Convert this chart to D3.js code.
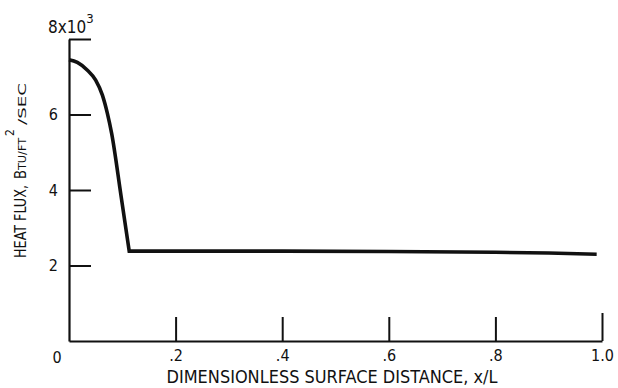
<!DOCTYPE html>
<head>
    <script src="https://d3js.org/d3.v7.min.js"></script>
    <style>
        body { margin: 0; background: #fff; }
        text { font-family: 'DejaVu Sans Condensed', 'DejaVu Sans', sans-serif; fill: #111; }
    </style>
</head>
<body>
    <div id='container'></div>
    <script>
        // distance along surface (x/L) and heat flux (thousands of Btu/ft^2/sec)
        const xs = [0, 0.0156, 0.034, 0.050, 0.0625, 0.072, 0.080, 0.0976, 0.113, 0.2, 0.4, 0.6, 0.8, 0.9, 0.99];
        const flux = [7.45, 7.38, 7.18, 6.91, 6.52, 6.03, 5.50, 3.85, 2.38, 2.38, 2.38, 2.37, 2.35, 2.33, 2.30];
        const cornerX = 0.113;   // where the drop meets the plateau
        const xTicks = [0.2, 0.4, 0.6, 0.8, 1.0];
        const xTickLabels = ['.2', '.4', '.6', '.8', '1.0'];
        const yTicks = [2, 4, 6, 8];
        const yTickLabels = ['2', '4', '6', ''];

        const w = 618, h = 388;
        const data = xs.map((x, i) => [x, flux[i]]);

        const xScale = d3.scaleLinear().domain([0, 1]).range([69, 602]);
        const yScale = d3.scaleLinear().domain([0, 8]).range([341, 39]);

        const svg = d3.select('#container').append('svg')
                      .attr('width', w).attr('height', h);

        const xAxis = d3.axisBottom(xScale)
                        .tickValues(xTicks)
                        .tickFormat((d, i) => xTickLabels[i])
                        .tickSizeInner(-24).tickSizeOuter(0).tickPadding(9);
        const yAxis = d3.axisLeft(yScale)
                        .tickValues(yTicks)
                        .tickFormat((d, i) => yTickLabels[i])
                        .tickSizeInner(-22).tickSizeOuter(0).tickPadding(11);

        const gx = svg.append('g')
                      .attr('transform', 'translate(0,' + yScale(0) + ')')
                      .call(xAxis);
        const gy = svg.append('g')
                      .attr('transform', 'translate(' + xScale(0) + ',0)')
                      .call(yAxis);

        [gx, gy].forEach(g => {
            g.select('.domain').attr('stroke', '#111').attr('stroke-width', 2.2);
            g.selectAll('.tick line').attr('stroke', '#111').attr('stroke-width', 2);
            g.selectAll('.tick text').style('font-size', '16px').attr('fill', '#111');
        });
        // end tick at 1.0 a bit longer
        gx.selectAll('.tick line').filter(d => d === 1).attr('y2', -28);

        // "0" at the origin
        svg.append('text')
           .attr('x', 57).attr('y', 363)
           .attr('text-anchor', 'middle')
           .style('font-size', '16px')
           .text('0');

        // 8x10^3 label
        const topLabel = svg.append('text')
                       .attr('x', 48).attr('y', 33)
                       .style('font-size', '17px');
        topLabel.append('tspan').text('8x10');
        topLabel.append('tspan').attr('dy', -10).style('font-size', '13px').text('3');

        // curve: smooth drop, then a straight plateau from the corner on
        const drop = d3.line()
                       .x(d => xScale(d[0]))
                       .y(d => yScale(d[1]))
                       .curve(d3.curveMonotoneX);
        const flat = d3.line()
                       .x(d => xScale(d[0]))
                       .y(d => yScale(d[1]));
        const dropPath = drop(data.filter(d => d[0] <= cornerX));
        const flatPath = flat(data.filter(d => d[0] >= cornerX));
        svg.append('path')
           .attr('fill', 'none')
           .attr('stroke', '#111')
           .attr('stroke-width', 3.6)
           .attr('stroke-linejoin', 'miter')
           .attr('d', dropPath + 'L' + flatPath.slice(1));

        // axis titles
        svg.append('text')
           .attr('x', 332).attr('y', 383)
           .attr('text-anchor', 'middle')
           .attr('textLength', 331)
           .attr('lengthAdjust', 'spacingAndGlyphs')
           .style('font-size', '17px')
           .text('DIMENSIONLESS SURFACE DISTANCE, x/L');

        // y title, rotated; x positions below are minus the screen y
        const yt = svg.append('text')
                      .attr('transform', 'translate(26,0) rotate(-90)')
                      .style('font-size', '15px');
        yt.append('tspan').attr('x', -258).attr('textLength', 73)
          .attr('lengthAdjust', 'spacingAndGlyphs').text('HEAT FLUX,');
        yt.append('tspan').attr('x', -179).attr('textLength', 9)
          .attr('lengthAdjust', 'spacingAndGlyphs').text('B');
        yt.append('tspan').attr('x', -170).attr('textLength', 32)
          .attr('lengthAdjust', 'spacingAndGlyphs').style('font-size', '11px').text('TU/FT');
        yt.append('tspan').attr('x', -136).attr('dy', -12).style('font-size', '12px').text('2');
        yt.append('tspan').attr('x', -125).attr('dy', 12).attr('textLength', 42)
          .attr('lengthAdjust', 'spacingAndGlyphs').style('font-size', '11px').text('/SEC');
    </script>
</body>
